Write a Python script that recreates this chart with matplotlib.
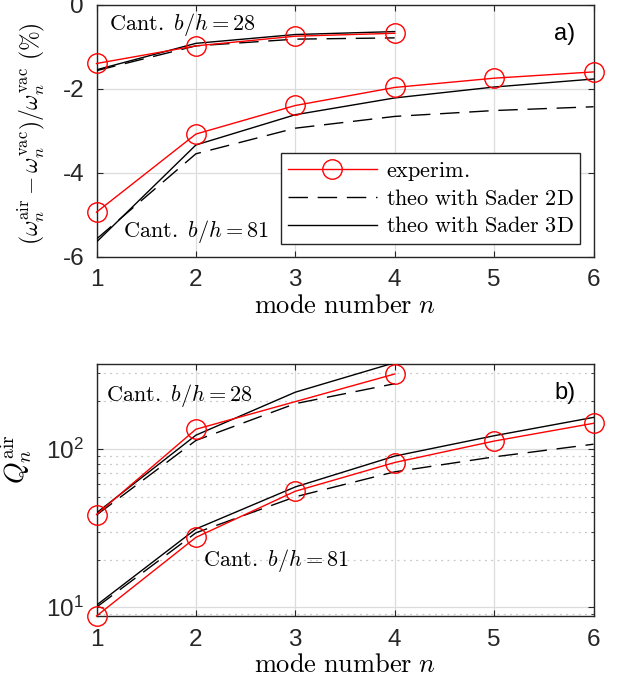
import numpy as np
import matplotlib
matplotlib.use("Agg")
import matplotlib.pyplot as plt
from matplotlib.ticker import LogLocator, NullFormatter

plt.rcParams['mathtext.fontset'] = 'cm'
plt.rcParams['font.family'] = ['Liberation Sans', 'DejaVu Sans']
plt.rcParams['axes.unicode_minus'] = False

modes = np.arange(1, 7)

# frequency shift (%) -- cantilever b/h = 28 (modes 1-4)
df_exp_28 = [-1.40, -0.98, -0.75, -0.68]
df_2d_28 = [-1.57, -0.98, -0.82, -0.79]
df_3d_28 = [-1.55, -0.92, -0.71, -0.64]
# frequency shift (%) -- cantilever b/h = 81 (modes 1-6)
df_exp_81 = [-4.94, -3.08, -2.40, -1.97, -1.75, -1.60]
df_2d_81 = [-5.58, -3.55, -2.94, -2.66, -2.52, -2.43]
df_3d_81 = [-5.65, -3.34, -2.62, -2.22, -1.96, -1.77]

# quality factor in air
q_exp_28 = [38.5, 133, np.nan, 297]
q_2d_28 = [38.2, 113, 193, 258]
q_3d_28 = [39.4, 122, 228, 350]
q_exp_81 = [8.8, 27.6, 54, 82, 112, 145]
q_2d_81 = [10.0, 29.5, 49.8, 71.6, 89, 107]
q_3d_81 = [10.3, 31.2, 57.5, 90, 121, 158]

W, H = 618, 684
fig = plt.figure(figsize=(W / 100, H / 100), dpi=100)
ax1 = fig.add_axes([96.5 / W, 1 - 256.7 / H, 497 / W, 252 / H])
ax2 = fig.add_axes([96.5 / W, 1 - 616 / H, 497 / W, 252.3 / H])

red = '#ff0000'
dash = (0, (14, 7))
tc = '#262626'


def draw(ax, x, exp, d2, d3, label=False):
    m = ~np.isnan(np.array(exp, dtype=float))
    ax.plot(x[m], np.array(exp)[m], color=red, lw=1.0, marker='o', ms=14,
            mfc='none', mec=red, mew=1.0, clip_on=False, zorder=4,
            label='experim.' if label else None)
    ax.plot(x, d2, color='k', lw=1.0, ls=dash, zorder=3,
            label='theo with Sader 2D' if label else None)
    ax.plot(x, d3, color='k', lw=1.0, zorder=3,
            label='theo with Sader 3D' if label else None)


def style(ax):
    ax.set_xlim(1, 6)
    ax.set_xticks(modes)
    ax.tick_params(which='both', direction='in', top=True, right=True,
                   labelsize=17.5, colors=tc, length=4, pad=9)
    ax.tick_params(which='minor', length=2.5)
    for s in ax.spines.values():
        s.set_color(tc)
        s.set_linewidth(1.0)
    ax.grid(True, which='major', color='#dcdcdc', lw=0.9)
    ax.set_axisbelow(True)
    ax.set_xlabel(r'$\mathrm{mode\ number}\ n$', fontsize=19, labelpad=2)


# a) frequency shift
draw(ax1, modes[:4], df_exp_28, df_2d_28, df_3d_28)
draw(ax1, modes, df_exp_81, df_2d_81, df_3d_81, label=True)
style(ax1)
ax1.set_ylim(-6, 0)
ax1.set_yticks([-6, -4, -2, 0])
ax1.set_ylabel(r'$(\omega_n^{\mathrm{air}}-\omega_n^{\mathrm{vac}})/\omega_n^{\mathrm{vac}}\ (\%)$',
               fontsize=17)
ax1.yaxis.set_label_coords(-0.1, 0.49)
ax1.text(1.13, -0.6, r'$\mathrm{Cant.}\ b/h=28$', fontsize=16)
ax1.text(1.27, -5.52, r'$\mathrm{Cant.}\ b/h=81$', fontsize=16)
ax1.text(5.82, -0.85, 'a)', fontsize=17, ha='right')
leg = ax1.legend(loc='lower right', bbox_to_anchor=(0.973, 0.05),
                 fontsize=16, fancybox=False, edgecolor=tc, framealpha=1,
                 handlelength=4.0, borderpad=0.3, labelspacing=0.28,
                 handletextpad=0.4, borderaxespad=0)
leg.get_frame().set_linewidth(1.0)
for t in leg.get_texts():
    t.set_text(r'$\mathrm{' + t.get_text().replace(' ', r'\ ') + '}$')

# b) quality factor
draw(ax2, modes[:4], q_exp_28, q_2d_28, q_3d_28)
draw(ax2, modes, q_exp_81, q_2d_81, q_3d_81)
ax2.set_yscale('log')
style(ax2)
ax2.set_ylim(8.8, 345)
ax2.yaxis.set_minor_locator(LogLocator(base=10, subs=np.arange(2, 10)))
ax2.yaxis.set_minor_formatter(NullFormatter())
ax2.grid(True, which='minor', color='#c8c8c8', lw=0.9, ls=(0, (1.5, 3.5)))
ax2.set_ylabel(r'$Q_n^{\mathrm{air}}$', fontsize=20)
ax2.yaxis.set_label_coords(-0.125, 0.62)
ax2.text(1.1, 200, r'$\mathrm{Cant.}\ b/h=28$', fontsize=16)
ax2.text(2.07, 18.2, r'$\mathrm{Cant.}\ b/h=81$', fontsize=16)
ax2.text(5.82, 205, 'b)', fontsize=17, ha='right')

fig.savefig('out.png', dpi=100)
